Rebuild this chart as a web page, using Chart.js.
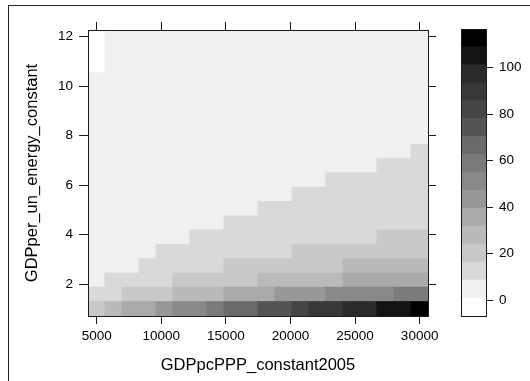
<!DOCTYPE html>
<html><head><meta charset="utf-8">
<script src="https://cdn.jsdelivr.net/npm/chart.js@4.4.1/dist/chart.umd.min.js"></script>
<style>
html,body{margin:0;padding:0;background:#fff;overflow:hidden}
#wrap{position:relative;width:530px;height:381px;overflow:hidden;background:#fff}
#frame{position:absolute;left:8px;top:5px;width:600px;height:600px;border-top:1px solid #222;border-left:1px solid #222}
#main{position:absolute;left:0;top:0;width:530px;height:381px}
#key{position:absolute;left:440px;top:0;width:90px;height:381px}
</style></head><body>
<div id="wrap"><div id="frame"></div>
<div id="main"><canvas id="c1" width="530" height="381"></canvas></div>
<div id="key"><canvas id="c2" width="90" height="381"></canvas></div></div>
<script>
// ---- data ----
const xCenters = [4985, 6301, 7617, 8933, 10249, 11565, 12881, 14197, 15513, 16829,
                  18145, 19461, 20777, 22093, 23409, 24725, 26041, 27357, 28673, 29989];
const yCenters = [1.01, 1.59, 2.16, 2.74, 3.32, 3.90, 4.47, 5.05, 5.63, 6.21,
                  6.78, 7.36, 7.94, 8.52, 9.09, 9.67, 10.25, 10.83, 11.40, 11.98];
// z values, one row per y center (bottom row first), one value per x center
const zByRow = [
  [20, 28, 33, 38, 44, 49, 54, 58, 64, 69, 72, 77, 82, 87, 92, 95, 100, 103, 107, 109.1],
  [11, 15, 17, 20, 23, 25, 28, 31, 33, 36, 39, 41, 44, 47, 48, 50, 52, 54, 56, 59],
  [8, 9.5, 11, 13, 15.5, 17, 19, 20.5, 22, 23.5, 25, 26.5, 28, 29.5, 31, 32.5, 34, 35.5, 37, 39],
  [5.5, 7, 8.4, 9.5, 11, 12.5, 14, 15.8, 17, 18.5, 19.5, 20.5, 21.5, 22.5, 23.8, 25, 26.5, 28, 29.5, 31],
  [4, 5, 6.5, 8, 9, 10, 11, 12, 13, 14, 15, 16, 17, 18, 19, 20, 21, 22, 23, 24],
  [3, 4, 5, 6, 7, 8.2, 9, 9.8, 10.5, 11.2, 12, 12.8, 13.5, 14.2, 15, 15.6, 16.2, 17, 17.8, 18.6],
  [2.6, 3.4, 4.2, 5, 5.8, 6.6, 7.4, 8.2, 8.8, 9.4, 10, 10.6, 11.2, 11.8, 12.4, 13, 13.6, 14.2, 14.8, 15.4],
  [2.3, 2.9, 3.5, 4.1, 4.8, 5.5, 6.2, 6.9, 7.6, 8.3, 8.9, 9.5, 10, 10.6, 11.2, 11.7, 12.2, 12.8, 13.3, 13.9],
  [2, 2.5, 3, 3.6, 4.2, 4.8, 5.4, 6, 6.6, 7.2, 7.8, 8.4, 8.9, 9.4, 9.9, 10.4, 10.9, 11.4, 11.9, 12.4],
  [1.8, 2.2, 2.7, 3.2, 3.7, 4.2, 4.7, 5.2, 5.7, 6.2, 6.7, 7.2, 7.7, 8.2, 8.8, 9.3, 9.8, 10.2, 10.7, 11.1],
  [1.6, 2, 2.4, 2.8, 3.2, 3.7, 4.1, 4.6, 5, 5.5, 5.9, 6.4, 6.8, 7.3, 7.7, 8.1, 8.5, 8.8, 9.3, 9.8],
  [1.5, 1.8, 2.2, 2.6, 3, 3.4, 3.8, 4.2, 4.6, 5, 5.4, 5.8, 6.2, 6.6, 7, 7.4, 7.8, 8.1, 8.4, 8.8],
  [1.4, 1.7, 2, 2.4, 2.8, 3.2, 3.5, 3.9, 4.3, 4.7, 5, 5.4, 5.8, 6.1, 6.5, 6.9, 7.2, 7.6, 7.9, 8.3],
  [1.3, 1.6, 1.9, 2.2, 2.6, 2.9, 3.3, 3.6, 4, 4.4, 4.7, 5.1, 5.4, 5.7, 6.1, 6.4, 6.8, 7.1, 7.4, 7.8],
  [1.2, 1.5, 1.8, 2.1, 2.4, 2.7, 3.1, 3.4, 3.7, 4.1, 4.4, 4.8, 5.1, 5.4, 5.7, 6, 6.4, 6.7, 7, 7.3],
  [1.1, 1.4, 1.7, 2, 2.3, 2.6, 2.9, 3.2, 3.5, 3.8, 4.1, 4.5, 4.8, 5.1, 5.4, 5.7, 6, 6.3, 6.6, 6.9],
  [1.0, 1.3, 1.6, 1.9, 2.2, 2.4, 2.7, 3, 3.3, 3.6, 3.9, 4.2, 4.5, 4.8, 5.1, 5.4, 5.7, 6, 6.2, 6.5],
  [0.92, 1.2, 1.5, 1.8, 2, 2.3, 2.6, 2.9, 3.1, 3.4, 3.7, 4, 4.3, 4.5, 4.8, 5.1, 5.4, 5.6, 5.9, 6.2],
  [0.87, 1.15, 1.4, 1.7, 1.9, 2.2, 2.5, 2.7, 3, 3.3, 3.5, 3.8, 4.1, 4.3, 4.6, 4.9, 5.1, 5.3, 5.6, 5.9],
  [0.82, 1.1, 1.35, 1.6, 1.8, 2.1, 2.4, 2.6, 2.9, 3.1, 3.4, 3.6, 3.9, 4.2, 4.4, 4.7, 4.9, 5.1, 5.3, 5.6]
];
const xTicks = [5000, 10000, 15000, 20000, 25000, 30000];
const yTicks = [2, 4, 6, 8, 10, 12];
const keyTicks = [0, 20, 40, 60, 80, 100];
const keyBreaks = [-6.76, 0.95, 8.66, 16.37, 24.08, 31.79, 39.50, 47.21, 54.92, 62.63,
                   70.34, 78.05, 85.76, 93.47, 101.18, 108.89, 116.60];
const keyColors = ['#ffffff', '#f0f0f0', '#d9d9d9', '#c9c9c9', '#bababa', '#aaaaaa', '#989898', '#898989',
                   '#7a7a7a', '#6a6a6a', '#545454', '#454545', '#383838', '#2b2b2b', '#131313', '#000000'];
const xTitle = 'GDPpcPPP_constant2005';
const yTitle = 'GDPper_un_energy_constant';

// ---- helpers ----
const FONT = "'Liberation Sans', Arial, Helvetica, sans-serif";
Chart.defaults.font.family = FONT;
Chart.defaults.color = '#000';
const LINE = '#1a1a1a';

function colorFor(z) {
  for (let k = 0; k < keyColors.length; k++) {
    if (z >= keyBreaks[k] && z < keyBreaks[k + 1]) return keyColors[k];
  }
  return z < keyBreaks[0] ? keyColors[0] : keyColors[keyColors.length - 1];
}
const xStep = xCenters[1] - xCenters[0];
const yStep = yCenters[1] - yCenters[0];
const xMin = xCenters[0] - xStep / 2, xMax = xCenters[xCenters.length - 1] + xStep / 2;
const yMin = yCenters[0] - yStep / 2, yMax = yCenters[yCenters.length - 1] + yStep / 2;

const cellSets = yCenters.map((yc, r) => ({
  data: xCenters.map(xc => ({ x: xc, y: [yc - yStep / 2, yc + yStep / 2] })),
  backgroundColor: zByRow[r].map(colorFor),
  borderWidth: 0,
  grouped: false,
  barPercentage: 1,
  categoryPercentage: 1,
  inflateAmount: 0.5
}));

const tickFont = { size: 13.5, family: FONT };
const titleFont = { size: 16.5, family: FONT };
const gridOpts = (len) => ({ offset: false, drawOnChartArea: false, drawTicks: true, tickLength: len, tickColor: LINE, tickWidth: 1, z: 2 });
const borderOpts = { display: true, color: LINE, width: 1, z: 2 };

new Chart(document.getElementById('c1'), {
  type: 'bar',
  data: { datasets: cellSets },
  options: {
    responsive: false,
    devicePixelRatio: 1,
    animation: false,
    events: [],
    layout: { padding: { top: 22, right: 94, bottom: 0, left: 0 } },
    plugins: { legend: { display: false }, tooltip: { enabled: false } },
    scales: {
      x: {
        type: 'linear', position: 'bottom', min: xMin, max: xMax, offset: false,
        afterBuildTicks: s => { s.ticks = xTicks.map(v => ({ value: v })); },
        afterFit: s => { s.height = 65; },
        ticks: { font: tickFont, color: '#000', padding: 4, maxRotation: 0, autoSkip: false, callback: v => String(v), z: 2 },
        grid: gridOpts(8),
        border: borderOpts,
        title: { display: true, text: xTitle, font: titleFont, color: '#000', padding: { top: 0, bottom: 6 } }
      },
      x2: {
        type: 'linear', position: 'top', min: xMin, max: xMax, offset: false,
        afterBuildTicks: s => { s.ticks = xTicks.map(v => ({ value: v })); },
        afterFit: s => { s.height = 8; },
        ticks: { display: false },
        grid: gridOpts(8),
        border: borderOpts
      },
      y: {
        type: 'linear', position: 'left', min: yMin, max: yMax,
        afterBuildTicks: s => { s.ticks = yTicks.map(v => ({ value: v })); },
        afterFit: s => { s.width = 88; },
        ticks: { font: tickFont, color: '#000', padding: 6, callback: v => String(v), z: 2 },
        grid: gridOpts(9),
        border: borderOpts,
        title: { display: true, text: yTitle, font: titleFont, color: '#000', padding: { top: 23, bottom: 0 } }
      },
      y2: {
        type: 'linear', position: 'right', min: yMin, max: yMax,
        afterBuildTicks: s => { s.ticks = yTicks.map(v => ({ value: v })); },
        afterFit: s => { s.width = 8; },
        ticks: { display: false },
        grid: gridOpts(8),
        border: borderOpts
      }
    }
  }
});

// ---- colour key ----
const keySets = keyColors.map((col, k) => ({
  data: [[keyBreaks[k], keyBreaks[k + 1]]],
  backgroundColor: col,
  borderWidth: 0,
  grouped: false,
  barPercentage: 1,
  categoryPercentage: 1,
  inflateAmount: 0.5
}));

new Chart(document.getElementById('c2'), {
  type: 'bar',
  data: { labels: [''], datasets: keySets },
  options: {
    responsive: false,
    devicePixelRatio: 1,
    animation: false,
    events: [],
    layout: { padding: { top: 29, right: 0, bottom: 65, left: 21 } },
    plugins: { legend: { display: false }, tooltip: { enabled: false } },
    scales: {
      x: {
        type: 'category', position: 'bottom',
        afterFit: s => { s.height = 0; },
        ticks: { display: false },
        grid: { display: false },
        border: borderOpts
      },
      x2: {
        type: 'category', position: 'top', labels: [''],
        afterFit: s => { s.height = 0; },
        ticks: { display: false },
        grid: { display: false },
        border: borderOpts
      },
      y: {
        type: 'linear', position: 'right', min: keyBreaks[0], max: keyBreaks[keyBreaks.length - 1],
        afterBuildTicks: s => { s.ticks = keyTicks.map(v => ({ value: v })); },
        afterFit: s => { s.width = 44; },
        ticks: { font: tickFont, color: '#000', padding: 6, callback: v => String(v), z: 2 },
        grid: gridOpts(7),
        border: borderOpts
      },
      y2: {
        type: 'linear', position: 'left', min: keyBreaks[0], max: keyBreaks[keyBreaks.length - 1],
        afterFit: s => { s.width = 0; },
        ticks: { display: false },
        grid: { display: false },
        border: borderOpts
      }
    }
  }
});
</script>
</body></html>
